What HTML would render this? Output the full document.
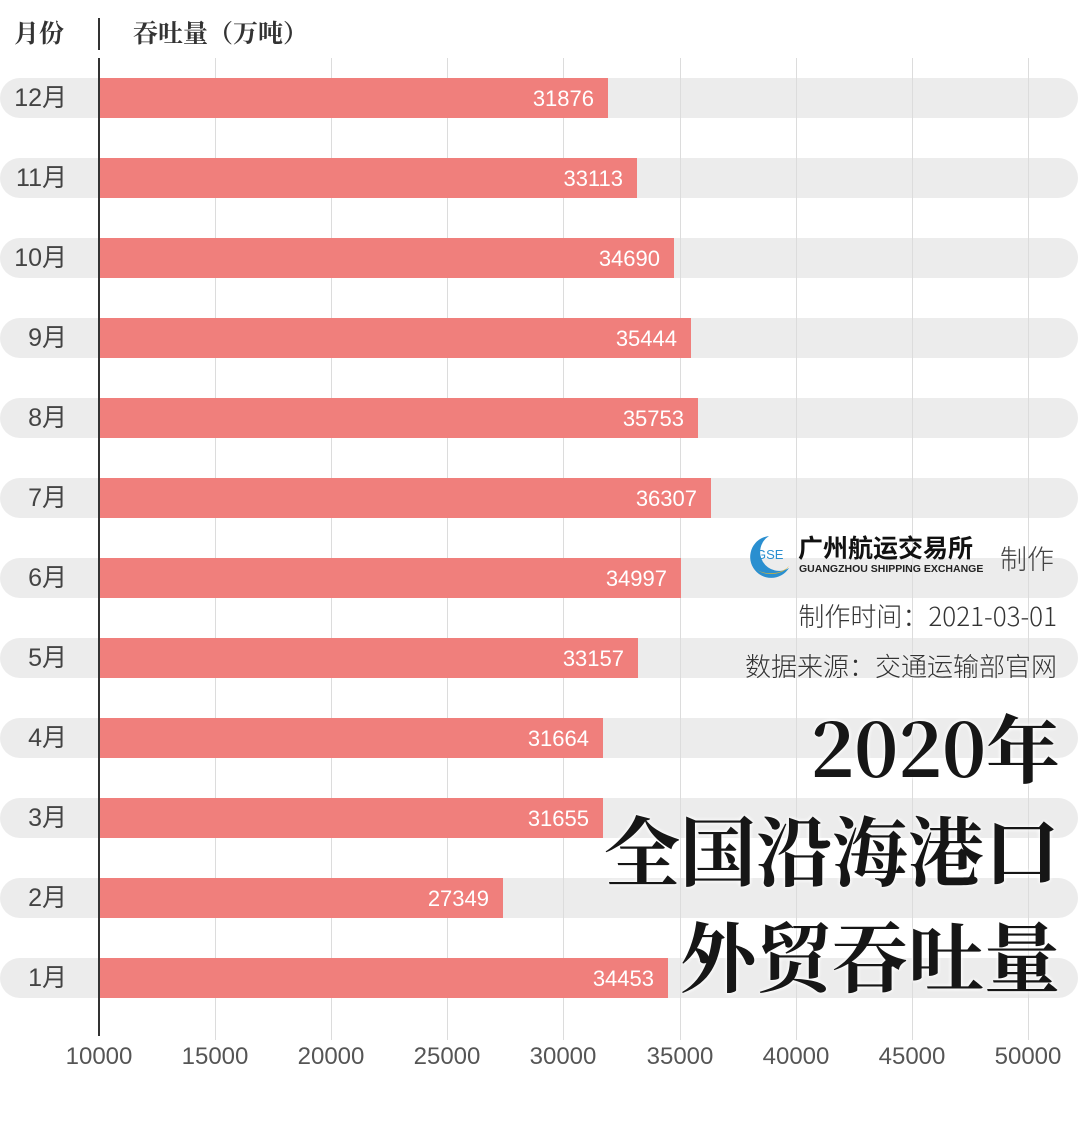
<!DOCTYPE html>
<html><head><meta charset="utf-8"><style>
body{margin:0;width:1080px;height:1125px;background:#fff;position:relative;overflow:hidden;font-family:"Liberation Sans","Noto Sans CJK SC",sans-serif}
div{position:absolute}
.band{left:0;width:1078px;height:40px;background:#ececec;border-radius:20px}
.grid{top:58px;height:982px;width:1px;background:#dcdcdc}
.bar{left:100px;height:40px;background:#f07f7c}
.v{color:#fff;font-size:22px;line-height:42px;text-align:right;right:14px;top:0}
.m{left:0;width:67px;text-align:right;font-size:25px;color:#444;line-height:40px}
.t{top:1043px;width:100px;text-align:center;font-size:24px;color:#555}
.big{right:20px;font-family:"Noto Serif CJK SC",serif;font-weight:700;color:#161616;text-shadow:0 0 4px #fff,0 0 4px #fff;white-space:nowrap}
.s{right:23px;font-family:"Noto Sans CJK SC",sans-serif;font-weight:300;font-size:26px;color:#333;text-shadow:0 0 3px #fff}
</style></head><body>
<div style="left:14px;top:14px;font-family:'Noto Serif CJK SC',serif;font-weight:700;font-size:25px;color:#333">月份</div>
<div style="left:98px;top:18px;width:2px;height:32px;background:#333"></div>
<div style="left:133px;top:14px;font-family:'Noto Serif CJK SC',serif;font-weight:700;font-size:25px;color:#333">吞吐量（万吨）</div>

<div class="band" style="top:78px"></div><div class="band" style="top:158px"></div><div class="band" style="top:238px"></div><div class="band" style="top:318px"></div><div class="band" style="top:398px"></div><div class="band" style="top:478px"></div><div class="band" style="top:558px"></div><div class="band" style="top:638px"></div><div class="band" style="top:718px"></div><div class="band" style="top:798px"></div><div class="band" style="top:878px"></div><div class="band" style="top:958px"></div>

<div class="grid" style="left:215px"></div><div class="grid" style="left:331px"></div><div class="grid" style="left:447px"></div><div class="grid" style="left:563px"></div><div class="grid" style="left:680px"></div><div class="grid" style="left:796px"></div><div class="grid" style="left:912px"></div><div class="grid" style="left:1028px"></div>

<div class="m" style="top:78px">12月</div><div class="m" style="top:158px">11月</div><div class="m" style="top:238px">10月</div><div class="m" style="top:318px">9月</div><div class="m" style="top:398px">8月</div><div class="m" style="top:478px">7月</div><div class="m" style="top:558px">6月</div><div class="m" style="top:638px">5月</div><div class="m" style="top:718px">4月</div><div class="m" style="top:798px">3月</div><div class="m" style="top:878px">2月</div><div class="m" style="top:958px">1月</div>

<div class="bar" style="top:78px;width:508px"><div class="v">31876</div></div>
<div class="bar" style="top:158px;width:537px"><div class="v">33113</div></div>
<div class="bar" style="top:238px;width:574px"><div class="v">34690</div></div>
<div class="bar" style="top:318px;width:591px"><div class="v">35444</div></div>
<div class="bar" style="top:398px;width:598px"><div class="v">35753</div></div>
<div class="bar" style="top:478px;width:611px"><div class="v">36307</div></div>
<div class="bar" style="top:558px;width:581px"><div class="v">34997</div></div>
<div class="bar" style="top:638px;width:538px"><div class="v">33157</div></div>
<div class="bar" style="top:718px;width:503px"><div class="v">31664</div></div>
<div class="bar" style="top:798px;width:503px"><div class="v">31655</div></div>
<div class="bar" style="top:878px;width:403px"><div class="v">27349</div></div>
<div class="bar" style="top:958px;width:568px"><div class="v">34453</div></div>

<div style="left:98px;top:58px;width:2px;height:978px;background:#333"></div>

<div class="t" style="left:49px">10000</div><div class="t" style="left:165px">15000</div><div class="t" style="left:281px">20000</div><div class="t" style="left:397px">25000</div><div class="t" style="left:513px">30000</div><div class="t" style="left:630px">35000</div><div class="t" style="left:746px">40000</div><div class="t" style="left:862px">45000</div><div class="t" style="left:978px">50000</div>

<svg style="position:absolute;left:745px;top:532px" width="50" height="46"><path d="M24 4 A21 21 0 1 0 44 36 A17 17 0 1 1 24 4Z" fill="#2a8fd0"/><path d="M44 34 A20 14 0 0 1 12 38 A22 16 0 0 0 44 34Z" fill="#f0b820"/><text x="11" y="27" font-family="Liberation Sans" font-size="13" fill="#2a8fd0">GSE</text></svg>
<div style="left:798px;top:532px;font-family:'Noto Sans CJK SC',sans-serif;font-weight:700;font-size:25px;color:#111;line-height:30px">广州航运交易所</div>
<div style="left:799px;top:563px;font-family:'Liberation Sans',sans-serif;font-weight:700;font-size:10.5px;color:#222">GUANGZHOU SHIPPING EXCHANGE</div>
<div style="left:1000px;top:538px;font-family:'Noto Sans CJK SC',sans-serif;font-weight:300;font-size:27px;color:#444">制作</div>

<div class="s" style="top:597px">制作时间：2021-03-01</div>
<div class="s" style="top:647px">数据来源：交通运输部官网</div>

<div class="big" style="top:698px;font-size:74px;line-height:96px">2020年</div>
<div class="big" style="top:800px;font-size:76px;line-height:96px">全国沿海港口</div>
<div class="big" style="top:906px;font-size:76px;line-height:96px">外贸吞吐量</div>
</body></html>
